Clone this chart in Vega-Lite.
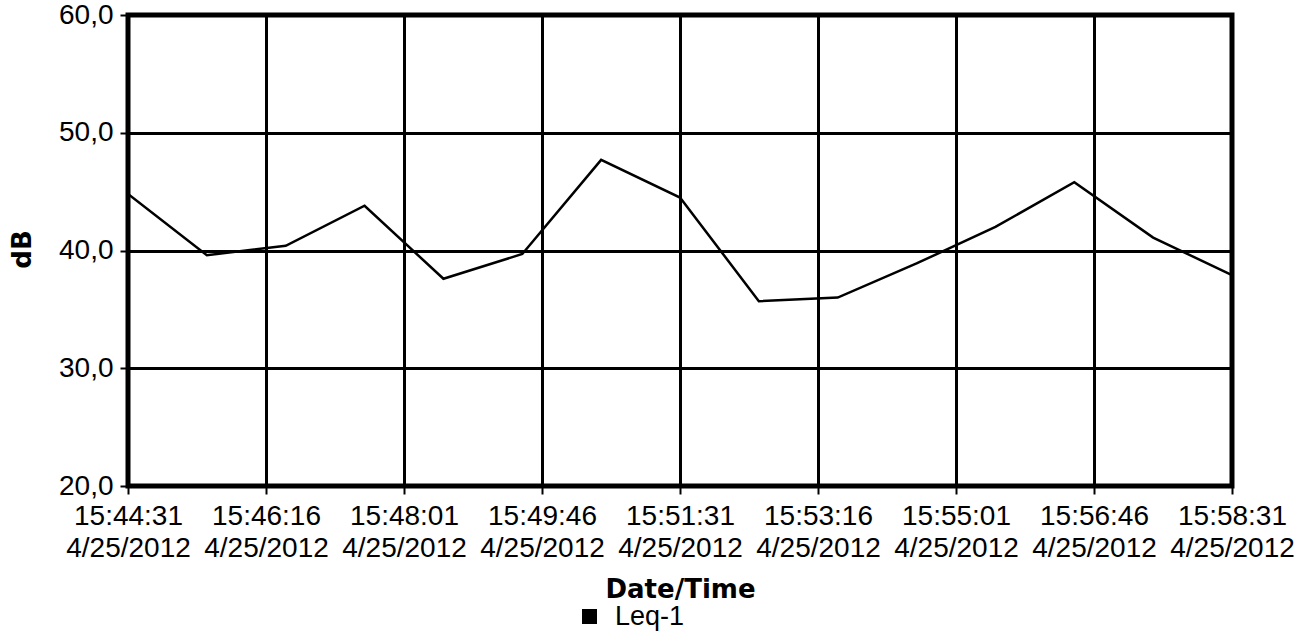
{
  "$schema": "https://vega.github.io/schema/vega-lite/v6.json",
  "width": 1104,
  "height": 471,
  "autosize": {"type": "none"},
  "padding": {"left": 128, "top": 15, "right": 73, "bottom": 151},
  "background": "white",
  "config": {
    "view": {"stroke": "black", "strokeWidth": 5},
    "axis": {
      "domain": false,
      "grid": true,
      "gridColor": "black",
      "gridOpacity": 1,
      "gridWidth": 3,
      "ticks": true,
      "tickColor": "black",
      "tickSize": 8,
      "tickWidth": 2,
      "labelFont": "Liberation Sans",
      "labelFontSize": 28,
      "labelColor": "black",
      "titleFont": "DejaVu Sans",
      "titleFontSize": 26,
      "titleFontWeight": "bold",
      "titleColor": "black"
    }
  },
  "data": {
    "values": [
      {"time": "2012-04-25T15:44:31", "dB": 44.8, "series": "Leq-1"},
      {"time": "2012-04-25T15:45:31", "dB": 39.6, "series": "Leq-1"},
      {"time": "2012-04-25T15:46:31", "dB": 40.4, "series": "Leq-1"},
      {"time": "2012-04-25T15:47:31", "dB": 43.8, "series": "Leq-1"},
      {"time": "2012-04-25T15:48:31", "dB": 37.6, "series": "Leq-1"},
      {"time": "2012-04-25T15:49:31", "dB": 39.7, "series": "Leq-1"},
      {"time": "2012-04-25T15:50:31", "dB": 47.7, "series": "Leq-1"},
      {"time": "2012-04-25T15:51:31", "dB": 44.5, "series": "Leq-1"},
      {"time": "2012-04-25T15:52:31", "dB": 35.7, "series": "Leq-1"},
      {"time": "2012-04-25T15:53:31", "dB": 36.0, "series": "Leq-1"},
      {"time": "2012-04-25T15:54:31", "dB": 38.9, "series": "Leq-1"},
      {"time": "2012-04-25T15:55:31", "dB": 42.0, "series": "Leq-1"},
      {"time": "2012-04-25T15:56:31", "dB": 45.8, "series": "Leq-1"},
      {"time": "2012-04-25T15:57:31", "dB": 41.1, "series": "Leq-1"},
      {"time": "2012-04-25T15:58:31", "dB": 37.9, "series": "Leq-1"}
    ]
  },
  "mark": {"type": "line", "strokeWidth": 2.5, "clip": true},
  "encoding": {
    "x": {
      "field": "time",
      "type": "temporal",
      "scale": {
        "domain": [
          {"year": 2012, "month": 4, "date": 25, "hours": 15, "minutes": 44, "seconds": 31},
          {"year": 2012, "month": 4, "date": 25, "hours": 15, "minutes": 58, "seconds": 31}
        ]
      },
      "axis": {
        "title": "Date/Time",
        "titleY": 111,
        "titleBaseline": "alphabetic",
        "values": [
          {"year": 2012, "month": 4, "date": 25, "hours": 15, "minutes": 44, "seconds": 31},
          {"year": 2012, "month": 4, "date": 25, "hours": 15, "minutes": 46, "seconds": 16},
          {"year": 2012, "month": 4, "date": 25, "hours": 15, "minutes": 48, "seconds": 1},
          {"year": 2012, "month": 4, "date": 25, "hours": 15, "minutes": 49, "seconds": 46},
          {"year": 2012, "month": 4, "date": 25, "hours": 15, "minutes": 51, "seconds": 31},
          {"year": 2012, "month": 4, "date": 25, "hours": 15, "minutes": 53, "seconds": 16},
          {"year": 2012, "month": 4, "date": 25, "hours": 15, "minutes": 55, "seconds": 1},
          {"year": 2012, "month": 4, "date": 25, "hours": 15, "minutes": 56, "seconds": 46},
          {"year": 2012, "month": 4, "date": 25, "hours": 15, "minutes": 58, "seconds": 31}
        ],
        "labelExpr": "[timeFormat(datum.value, '%H:%M:%S'), timeFormat(datum.value, '%-m/%d/%Y')]",
        "labelLineHeight": 32,
        "labelPadding": 8,
        "labelFlush": false,
        "labelOverlap": false
      }
    },
    "y": {
      "field": "dB",
      "type": "quantitative",
      "scale": {"domain": [20, 60], "nice": false, "zero": false},
      "axis": {
        "title": "dB",
        "values": [20, 30, 40, 50, 60],
        "labelExpr": "replace(format(datum.value, '.1f'), '.', ',')",
        "labelPadding": 7,
        "titleAngle": -90,
        "titleX": -106,
        "titleY": 234,
        "titleAlign": "center",
        "titleBaseline": "middle"
      }
    },
    "color": {
      "field": "series",
      "type": "nominal",
      "scale": {"range": ["black"]},
      "legend": {
        "title": null,
        "orient": "none",
        "legendX": 448,
        "legendY": 588,
        "symbolType": "square",
        "symbolSize": 225,
        "symbolFillColor": "black",
        "symbolStrokeColor": "black",
        "symbolStrokeWidth": 0,
        "labelFont": "Liberation Sans",
        "labelFontSize": 27,
        "labelColor": "black",
        "labelOffset": 12
      }
    }
  }
}
